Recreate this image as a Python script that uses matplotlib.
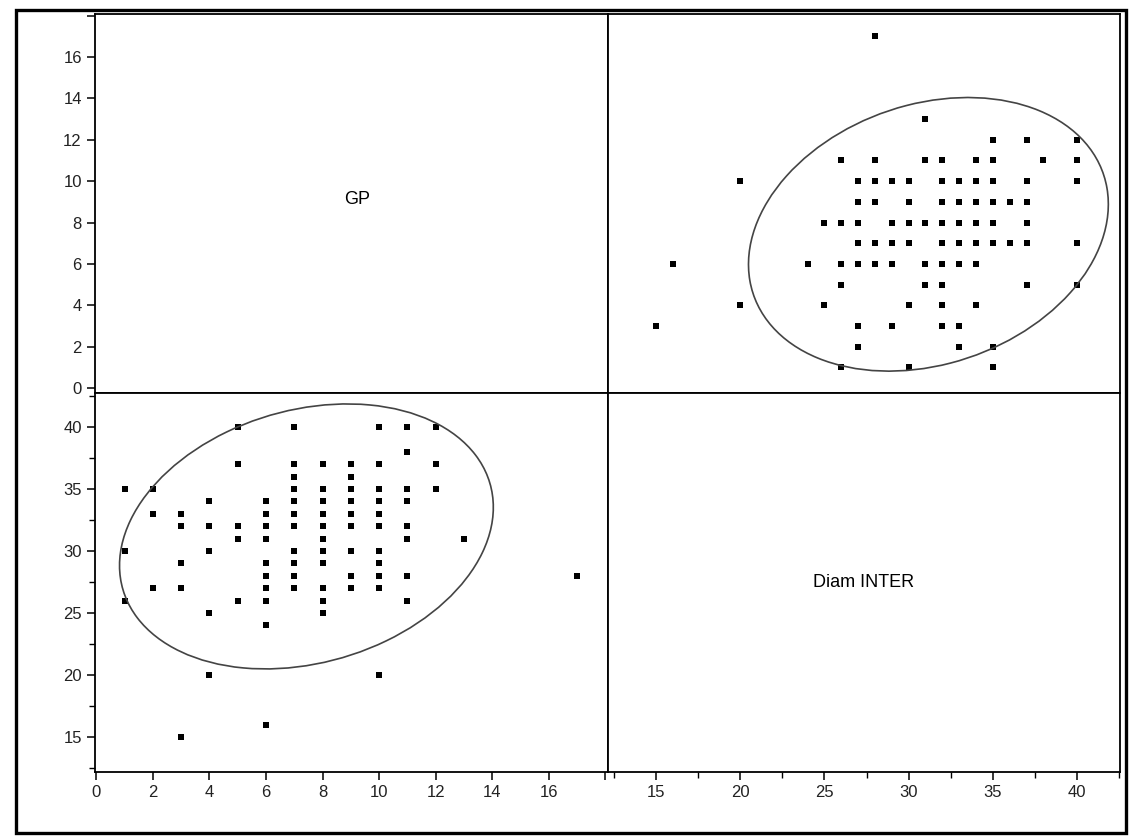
import numpy as np
import matplotlib.pyplot as plt
from matplotlib.patches import Ellipse, Rectangle
from matplotlib.ticker import MultipleLocator

plt.rcParams['font.family'] = ['Liberation Sans', 'DejaVu Sans']

# paired observations read from the scatterplot matrix
gp = [1, 1, 1,
      2, 2, 2,
      3, 3, 3, 3, 3,
      4, 4, 4, 4, 4,
      5, 5, 5, 5, 5,
      6, 6, 6, 6, 6, 6, 6, 6, 6, 6,
      7, 7, 7, 7, 7, 7, 7, 7, 7, 7, 7,
      8, 8, 8, 8, 8, 8, 8, 8, 8, 8, 8,
      9, 9, 9, 9, 9, 9, 9, 9, 9,
      10, 10, 10, 10, 10, 10, 10, 10, 10, 10, 10,
      11, 11, 11, 11, 11, 11, 11, 11,
      12, 12, 12,
      13, 17]
diam_inter = [26, 30, 35,
              27, 33, 35,
              15, 27, 29, 32, 33,
              20, 25, 30, 32, 34,
              26, 31, 32, 37, 40,
              16, 24, 26, 27, 28, 29, 31, 32, 33, 34,
              27, 28, 29, 30, 32, 33, 34, 35, 36, 37, 40,
              25, 26, 27, 29, 30, 31, 32, 33, 34, 35, 37,
              27, 28, 30, 32, 33, 34, 35, 36, 37,
              20, 27, 28, 29, 30, 32, 33, 34, 35, 37, 40,
              26, 28, 31, 32, 34, 35, 38, 40,
              35, 37, 40,
              31, 28]

var_names = ['GP', 'Diam INTER']
gp_xlim = (-0.05, 18.1)
gp_ylim = (-0.24, 18.08)
d_xlim = (12.15, 42.55)
d_ylim = (12.18, 42.74)


def density_ellipse(ax, x, y, level=4.605):
    # 90% normal density ellipse
    xy = np.column_stack([x, y]).astype(float)
    mu = xy.mean(axis=0)
    cov = np.cov(xy, rowvar=False)
    vals, vecs = np.linalg.eigh(cov)
    angle = np.degrees(np.arctan2(vecs[1, 1], vecs[0, 1]))
    w, h = 2 * np.sqrt(level * vals[1]), 2 * np.sqrt(level * vals[0])
    ax.add_patch(Ellipse(mu, w, h, angle=angle, fill=False,
                         edgecolor='#444444', lw=1.2))


fig = plt.figure(figsize=(11.3, 8.36), dpi=100)

L, M, R = 95 / 1130, 608 / 1130, 1120 / 1130
B, H, T = 1 - 772 / 836, 1 - 393 / 836, 1 - 14 / 836

ax_tl = fig.add_axes([L, H, M - L, T - H])
ax_tr = fig.add_axes([M, H, R - M, T - H])
ax_bl = fig.add_axes([L, B, M - L, H - B])
ax_br = fig.add_axes([M, B, R - M, H - B])

for ax in (ax_tl, ax_tr, ax_bl, ax_br):
    for s in ax.spines.values():
        s.set_linewidth(1.3)
        s.set_color('black')
    ax.tick_params(direction='out', length=6, width=1.1, labelsize=12,
                   labelcolor='#222222')
    ax.tick_params(which='minor', direction='out', length=4, width=1.0)
    ax.set_xticks([])
    ax.set_yticks([])

# diagonal labels
ax_tl.set_xlim(gp_xlim)
ax_tl.set_ylim(gp_ylim)
ax_tl.text(0.51, 0.51, var_names[0], transform=ax_tl.transAxes,
           ha='center', va='center', fontsize=13)
ax_br.set_xlim(d_xlim)
ax_br.set_ylim(d_ylim)
ax_br.text(0.5, 0.5, var_names[1], transform=ax_br.transAxes,
           ha='center', va='center', fontsize=13)

# off-diagonal scatters
ax_bl.scatter(gp, diam_inter, s=13, marker='s', color='black', lw=0)
density_ellipse(ax_bl, gp, diam_inter)
ax_bl.set_xlim(gp_xlim)
ax_bl.set_ylim(d_ylim)

ax_tr.scatter(diam_inter, gp, s=13, marker='s', color='black', lw=0)
density_ellipse(ax_tr, diam_inter, gp)
ax_tr.set_xlim(d_xlim)
ax_tr.set_ylim(gp_ylim)

# axes ticks: left column and bottom row only
ax_tl.set_yticks(np.arange(0, 19, 2))
ax_tl.set_yticklabels([str(v) for v in range(0, 17, 2)] + [''])

ax_bl.set_yticks(np.arange(15, 41, 5))
ax_bl.yaxis.set_minor_locator(MultipleLocator(2.5))
ax_bl.set_xticks(np.arange(0, 19, 2))
ax_bl.set_xticklabels([str(v) for v in range(0, 17, 2)] + [''])

ax_br.set_xticks(np.arange(15, 41, 5))
ax_br.xaxis.set_minor_locator(MultipleLocator(2.5))

# outer frame
fig.add_artist(Rectangle((16 / 1130, 3 / 836), 1110 / 1130, 823 / 836,
                         transform=fig.transFigure, fill=False,
                         edgecolor='black', lw=2.4))

fig.savefig('out.png', dpi=100)
